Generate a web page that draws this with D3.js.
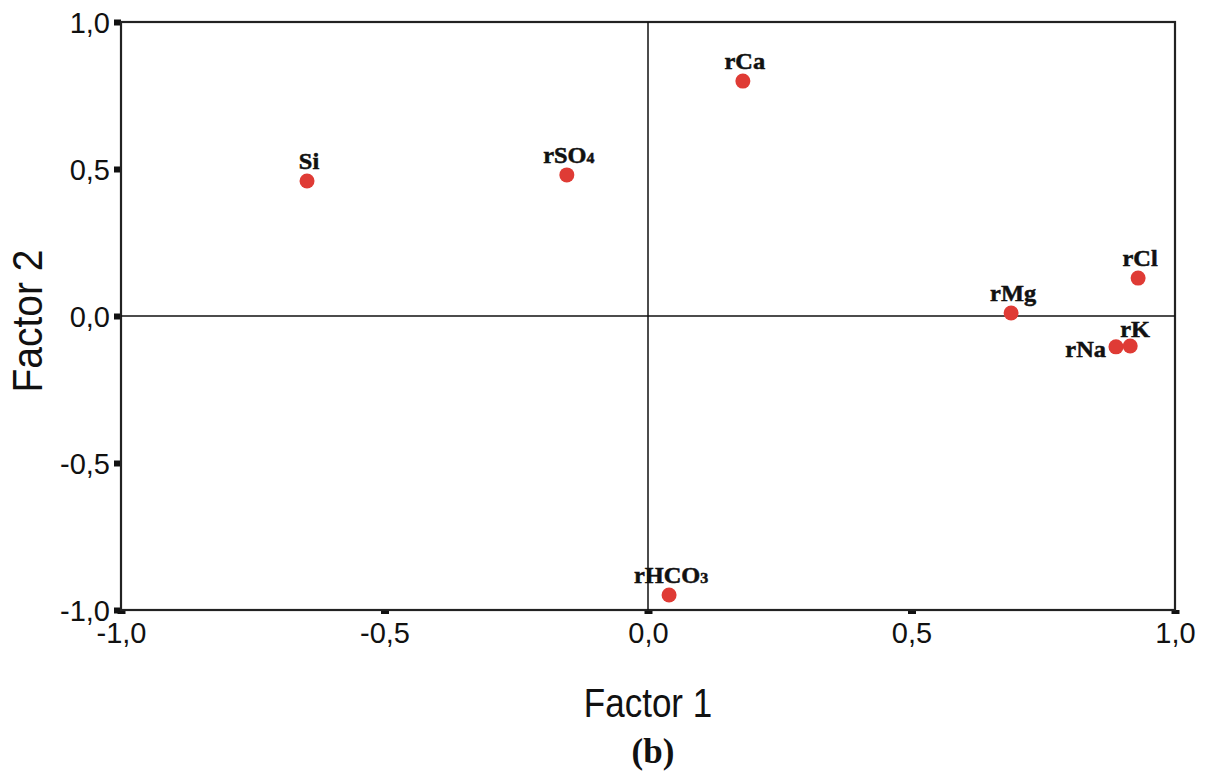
<!DOCTYPE html>
<html>
<head>
<meta charset="utf-8">
<script src="https://cdn.jsdelivr.net/npm/d3@7"></script>
<style>
  html, body { margin: 0; padding: 0; background: #fff; }
  svg { display: block; }
</style>
</head>
<body>
<svg id="chart" width="1209" height="774"></svg>
<script>
// Variables and their loadings on the first two factors
const variables = ["Si", "rSO4", "rCa", "rMg", "rCl", "rNa", "rK", "rHCO3"];
const factor1 = [-0.647, -0.154, 0.180, 0.689, 0.930, 0.888, 0.915, 0.040];
const factor2 = [0.459, 0.480, 0.799, 0.010, 0.129, -0.105, -0.102, -0.949];
const tickValues = [-1.0, -0.5, 0.0, 0.5, 1.0];

(function () {
  const svg = d3.select("#chart");
  const plotLeft = 121, plotRight = 1175, plotTop = 22, plotBottom = 610;

  const x = d3.scaleLinear().domain([-1, 1]).range([plotLeft, plotRight]);
  const y = d3.scaleLinear().domain([-1, 1]).range([plotBottom, plotTop]);
  const fmt = d => d3.format(".1f")(d).replace(".", ",").replace("−", "-");

  // Axes: short heavy ticks, labels in a plain sans face
  const xAxis = d3.axisBottom(x).tickValues(tickValues).tickSizeInner(4).tickSizeOuter(0).tickPadding(8).tickFormat(fmt);
  const yAxis = d3.axisLeft(y).tickValues(tickValues).tickSizeInner(7).tickSizeOuter(0).tickPadding(4).tickFormat(fmt);

  const gx = svg.append("g").attr("transform", `translate(0,${plotBottom})`).call(xAxis);
  const gy = svg.append("g").attr("transform", `translate(${plotLeft},0)`).call(yAxis);
  [gx, gy].forEach(g => {
    g.select(".domain").remove();
    g.selectAll(".tick text")
      .attr("fill", "#111")
      .style("font-family", "'Liberation Sans', Arial, sans-serif")
      .style("font-size", "29px");
  });
  gx.selectAll(".tick line").attr("stroke", "#111").attr("stroke-width", 8);
  gy.selectAll(".tick line").attr("stroke", "#111").attr("stroke-width", 6);
  gx.selectAll(".tick text").attr("dy", "0.72em");
  gy.selectAll(".tick text").attr("dy", "0.36em");

  // Plot frame
  svg.append("rect")
    .attr("x", plotLeft).attr("y", plotTop)
    .attr("width", plotRight - plotLeft).attr("height", plotBottom - plotTop)
    .attr("fill", "none").attr("stroke", "#222").attr("stroke-width", 2.2);

  // Reference lines through the origin
  svg.append("line")
    .attr("x1", x(0)).attr("x2", x(0)).attr("y1", plotTop).attr("y2", plotBottom)
    .attr("stroke", "#111").attr("stroke-width", 1.5);
  svg.append("line")
    .attr("x1", plotLeft).attr("x2", plotRight).attr("y1", y(0)).attr("y2", y(0))
    .attr("stroke", "#111").attr("stroke-width", 1.5);

  // Loading points
  const pts = variables.map((v, i) => ({ name: v, f1: factor1[i], f2: factor2[i] }));

  svg.append("g").selectAll("circle")
    .data(pts).join("circle")
    .attr("cx", d => x(d.f1))
    .attr("cy", d => y(d.f2))
    .attr("r", 7.5)
    .attr("fill", "#df3b35");

  // Label placement: default is centred above the point
  const placement = {
    rNa: { anchor: "end", dx: -10, dy: 10 },
    rK: { anchor: "start", dx: -10, dy: -9 }
  };

  const labels = svg.append("g")
    .style("font-family", "'Liberation Serif', 'Times New Roman', serif")
    .style("font-weight", "bold")
    .style("font-size", "23px")
    .attr("fill", "#111")
    .attr("stroke", "#111")
    .attr("stroke-width", 0.5);

  pts.forEach(d => {
    const p = placement[d.name] || { anchor: "middle", dx: 2, dy: -12 };
    const t = labels.append("text")
      .attr("text-anchor", p.anchor)
      .attr("transform", `translate(${x(d.f1) + p.dx},${y(d.f2) + p.dy}) scale(1.06,1)`);
    const m = d.name.match(/^(.*?)(\d+)$/);
    if (m) {
      t.append("tspan").text(m[1]);
      t.append("tspan").attr("font-size", "15px").text(m[2]);
    } else {
      t.text(d.name);
    }
  });

  // Axis titles
  svg.append("text")
    .attr("transform", `translate(${(plotLeft + plotRight) / 2},717) scale(1,1.18)`)
    .attr("text-anchor", "middle")
    .style("font-family", "'Liberation Sans', Arial, sans-serif")
    .style("font-size", "35px")
    .attr("fill", "#111")
    .text("Factor 1");

  svg.append("text")
    .attr("transform", `translate(42,${(plotTop + plotBottom) / 2 + 5}) rotate(-90) scale(1,1.08)`)
    .attr("text-anchor", "middle")
    .style("font-family", "'Liberation Sans', Arial, sans-serif")
    .style("font-size", "39px")
    .attr("fill", "#111")
    .text("Factor 2");

  // Panel caption
  svg.append("text")
    .attr("x", 653).attr("y", 763)
    .attr("text-anchor", "middle")
    .style("font-family", "'Liberation Serif', 'Times New Roman', serif")
    .style("font-weight", "bold")
    .style("font-size", "35px")
    .attr("fill", "#111")
    .text("(b)");
})();
</script>
</body>
</html>
